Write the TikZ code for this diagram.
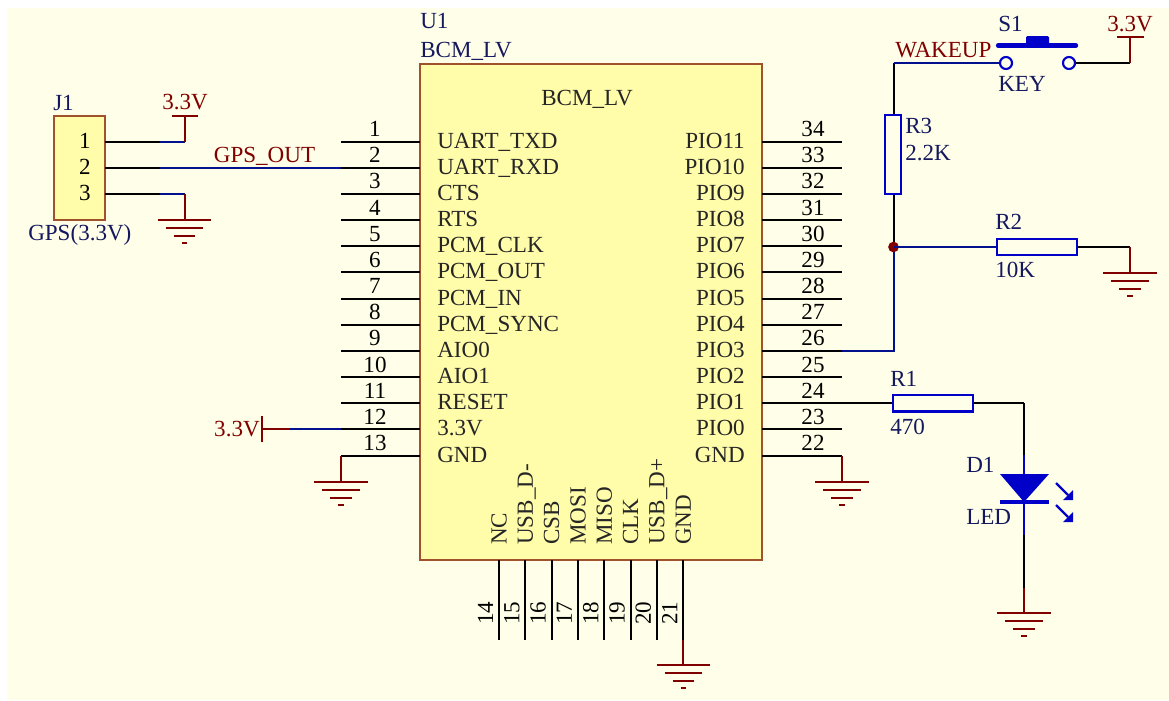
\documentclass[tikz,border=0pt]{standalone}
\usepackage{fontspec}
\setmainfont{Liberation Serif}
\definecolor{bgc}{HTML}{FFFFE9}
\definecolor{chipc}{HTML}{FFFCAA}
\definecolor{edgec}{HTML}{A0522D}
\definecolor{wirec}{HTML}{00108F}
\definecolor{partc}{HTML}{0000C8}
\definecolor{powc}{HTML}{800000}
\definecolor{labc}{HTML}{14185E}
\tikzset{
  pinline/.style={draw=black,line width=1.5pt},
  wireline/.style={draw=wirec,line width=1.5pt},
  powline/.style={draw=powc,line width=1.5pt},
  partline/.style={draw=partc,line width=2pt},
  txt/.style={inner sep=0pt,font=\fontsize{17.3pt}{19pt}\selectfont},
  pinlabel/.style={txt,text=black!85},
  pinnum/.style={txt,text=black,anchor=base},
  desig/.style={txt,text=labc,anchor=base west},
  netlab/.style={txt,text=powc},
  resbox/.style={draw=partc,line width=1.6pt,fill=bgc,inner sep=0pt,minimum width=60pt,minimum height=12.5pt},
  gndsym/.pic={
    \draw[powline] (-20pt,0)--(20pt,0);
    \draw[powline] (-14pt,-6pt)--(14pt,-6pt);
    \draw[powline] (-8pt,-12pt)--(8pt,-12pt);
    \draw[powline] (-2pt,-17.5pt)--(2pt,-17.5pt);
  }
}
\begin{document}
\begin{tikzpicture}[x=0.75pt,y=-0.75pt]
\useasboundingbox (0,0) rectangle (1169,700);
\fill[white] (0,0) rectangle (1169,700);
\fill[bgc] (7,8) rectangle (1169,700);

% chip
\node[draw=edgec,line width=1.2pt,fill=chipc,inner sep=0pt,minimum width=256.5pt,minimum height=372pt] (U1) at (591,312) {};
\node[desig] (u1ref) at (420,28) {U1};
\node[desig] (u1val) at (420,57) {BCM\_LV};
\node[pinlabel,anchor=base] (u1in) at (587,105) {BCM\_LV};

% left pins
\foreach \i/\t [count=\k from 0] in {1/UART\_TXD,2/UART\_RXD,3/CTS,4/RTS,5/PCM\_CLK,6/PCM\_OUT,7/PCM\_IN,8/PCM\_SYNC,9/AIO0,10/AIO1,11/RESET,12/3.3V,13/GND}{
  \pgfmathsetmacro\yy{141.5+26.17*\k}
  \coordinate (L\i) at (341,\yy);
  \coordinate (Lb\i) at (420,\yy);
  \draw[pinline] (L\i)--(Lb\i);
  \node[pinnum] (Ln\i) at (375,\yy-5) {\i};
  \node[pinlabel,anchor=base west] (Lt\i) at (437,\yy+6.5) {\t};
}
% right pins
\foreach \i/\t [count=\k from 0] in {34/PIO11,33/PIO10,32/PIO9,31/PIO8,30/PIO7,29/PIO6,28/PIO5,27/PIO4,26/PIO3,25/PIO2,24/PIO1,23/PIO0,22/GND}{
  \pgfmathsetmacro\yy{141.5+26.17*\k}
  \coordinate (R\i) at (842,\yy);
  \coordinate (Rb\i) at (762,\yy);
  \draw[pinline] (Rb\i)--(R\i);
  \node[pinnum] (Rn\i) at (813,\yy-5) {\i};
  \node[pinlabel,anchor=base east] (Rt\i) at (745,\yy+6.5) {\t};
}
% bottom pins
\foreach \i/\t [count=\k from 0] in {14/NC,15/USB\_D-,16/CSB,17/MOSI,18/MISO,19/CLK,20/USB\_D+,21/GND}{
  \pgfmathsetmacro\xx{499+26.33*\k}
  \coordinate (B\i) at (\xx,640);
  \coordinate (Bb\i) at (\xx,560);
  \draw[pinline] (Bb\i)--(B\i);
  \node[txt,text=black,rotate=90,anchor=base] (Bn\i) at (\xx-6,613) {\i};
  \node[pinlabel,rotate=90,anchor=base west] (Bt\i) at (\xx+7.5,545) {\t};
}

% J1
\node[draw=edgec,line width=1.2pt,fill=chipc,inner sep=0pt,minimum width=38.5pt,minimum height=78pt] (J1) at (79.5,168) {};
\node[desig] (j1ref) at (53,110) {J1};
\node[desig,anchor=base west] (j1val) at (28,240) {GPS(3.3V)};
\coordinate (jxa) at (105,0);
\coordinate (jxb) at (160,0);
\foreach \i/\p in {1/L1,2/L2,3/L3}{
  \coordinate (Ja\i) at (\p -| jxa);
  \coordinate (Jb\i) at (\p -| jxb);
}
\path (Ja1) ++(-20,6.5) node[pinnum] (Jn1) {1};
\path (Ja2) ++(-20,6.5) node[pinnum] (Jn2) {2};
\path (Ja3) ++(-20,6.5) node[pinnum] (Jn3) {3};
\coordinate (jx) at (184.5,0);
\coordinate (jv) at (L1 -| jx);
\coordinate (jvt) at (184.5,116);
\coordinate (jg) at (L3 -| jx);
\coordinate (jgb) at (184.5,220);
\draw[wireline] (Jb1)--(jv);
\draw[wireline] (Jb2)--(L2);
\draw[wireline] (Jb3)--(jg);
\foreach \i in {1,2,3}{\draw[pinline] (Ja\i)--(Jb\i);}
\draw[powline] (jv)--(jvt);
\draw[powline] (171.5,116)--(198,116);
\draw[powline] (jg)--(jgb);
\pic at (jgb) {gndsym};
\node[netlab,anchor=base] (j33) at (185,109) {3.3V};
\node[netlab,anchor=base] (gpsout) at (264.5,162) {GPS\_OUT};

% left power
\path (L12) ++(-51,0) coordinate (p12b);
\path (L12) ++(-79,0) coordinate (p12c);
\draw[wireline] (p12b)--(L12);
\draw[powline] (p12c)--(p12b);
\draw[powline] ([yshift=-9.75pt]p12c)--([yshift=9.75pt]p12c);
\node[netlab,anchor=base east] (n33) at (260,436) {3.3V};
\path (L13) ++(0,26.5) coordinate (g13);
\draw[powline] (L13)--(g13);
\pic at (g13) {gndsym};

% right gnd
\path (R22) ++(0,26.5) coordinate (g22);
\draw[powline] (R22)--(g22);
\pic at (g22) {gndsym};

% bottom gnd
\path (B21) ++(0,25) coordinate (g21);
\draw[powline] (B21)--(g21);
\pic at (g21) {gndsym};

% WAKEUP
\coordinate (jn) at (893.5,247);
\coordinate (wt) at (893.5,63);
\draw[wireline] (R26) -| (jn);
\draw[pinline] (jn)--(893.5,194);
\draw[pinline] (893.5,115)--(wt);
\draw[wireline] (wt)--(1000,63);
\node[draw=partc,line width=1.6pt,fill=bgc,inner sep=0pt,minimum width=12pt,minimum height=59.5pt] (R3) at (893,154.5) {};
\node[circle,fill=powc,inner sep=0pt,minimum size=8pt] (jdot) at (jn) {};
\node[netlab,anchor=base west] (wk) at (895,57) {WAKEUP};

% S1
\node[circle,draw=partc,line width=1.6pt,fill=bgc,inner sep=0pt,minimum size=9pt] (S1a) at (1006,63) {};
\node[circle,draw=partc,line width=1.6pt,fill=bgc,inner sep=0pt,minimum size=9pt] (S1b) at (1069,63) {};
\draw[partc,line width=3.2pt,line cap=round] (998,45.5)--(1076,45.5);
\fill[partc,rounded corners=1pt] (1026,46) rectangle (1049,36);
\coordinate (sc) at (1130,63);
\coordinate (st) at (1130,37);
\draw[pinline] (S1b)--(sc);
\draw[powline] (sc)--(st);
\draw[powline] (1117,37)--(1144,37);
\node[desig] (s1ref) at (998,31) {S1};
\node[desig] (s1val) at (998,91) {KEY};
\node[netlab,anchor=base] (s33) at (1130,31) {3.3V};
\node[desig] (r3ref) at (905,133) {R3};
\node[desig] (r3val) at (905,160) {2.2K};

% R2
\node[resbox] (R2) at (1037,247) {};
\coordinate (r2c) at (1130,247);
\coordinate (r2g) at (1130,273);
\draw[wireline] (jn)--(R2);
\draw[pinline] (R2)--(r2c);
\draw[powline] (r2c)--(r2g);
\pic at (r2g) {gndsym};
\node[desig] (r2ref) at (995,229) {R2};
\node[desig] (r2val) at (995,277) {10K};

% R1 and LED
\coordinate (r1x) at (933,0);
\node[resbox] (R1) at (R24 -| r1x) {};
\coordinate (dx) at (1024,0);
\coordinate (r1c) at (R24 -| dx);
\draw[pinline] (R24)--(R1);
\draw[pinline] (R1)--(r1c);
\coordinate (dt) at (1024,474);
\coordinate (db) at (1024,502);
\draw[pinline] (r1c)--(1024,455);
\draw[partline] (1024,455)--(dt);
\fill[partc] (1000,474)--(1049,474)--(db)--cycle;
\draw[partc,line width=3.2pt] (999.5,502)--(1049,502);
\draw[partline] (db)--(1024,535);
\coordinate (dg) at (1024,613);
\draw[pinline] (1024,535)--(1024,588);
\draw[powline] (1024,588)--(dg);
\pic at (dg) {gndsym};
\foreach \yo in {483,505}{
  \draw[partc,line width=1.8pt] (1056,\yo)--(1068,\yo+12);
  \fill[partc] (1073,\yo+17)--(1073,\yo+7)--(1063,\yo+17)--cycle;
}
\node[desig] (r1ref) at (890,386) {R1};
\node[desig] (r1val) at (890,434) {470};
\node[desig] (d1ref) at (966,472) {D1};
\node[desig] (d1val) at (966,524) {LED};
\end{tikzpicture}
\end{document}
